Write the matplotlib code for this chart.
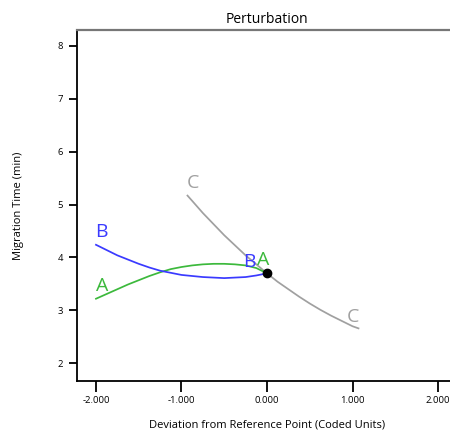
import matplotlib
matplotlib.use("Agg")
import matplotlib.pyplot as plt

plt.rcParams['font.family'] = ['Open Sans', 'DejaVu Sans']

# Factor A (green)
a_x = [-2.0, -1.875, -1.75, -1.625, -1.5, -1.375, -1.25, -1.125, -1.0,
       -0.875, -0.75, -0.625, -0.5, -0.375, -0.25, -0.125, 0.0]
a_y = [3.22, 3.31, 3.40, 3.49, 3.57, 3.65, 3.72, 3.78, 3.82,
       3.85, 3.87, 3.88, 3.88, 3.87, 3.85, 3.80, 3.70]
# Factor B (blue)
b_x = [-2.0, -1.875, -1.75, -1.625, -1.5, -1.375, -1.25, -1.125, -1.0,
       -0.875, -0.75, -0.625, -0.5, -0.375, -0.25, -0.125, 0.0]
b_y = [4.24, 4.14, 4.04, 3.96, 3.88, 3.81, 3.75, 3.71, 3.67,
       3.65, 3.63, 3.62, 3.61, 3.62, 3.63, 3.66, 3.70]
# Factor C (gray)
c_x = [-0.93, -0.875, -0.75, -0.625, -0.5, -0.375, -0.25, -0.125, 0.0,
       0.125, 0.25, 0.375, 0.5, 0.625, 0.75, 0.875, 1.0, 1.07]
c_y = [5.17, 5.07, 4.84, 4.63, 4.42, 4.23, 4.04, 3.87, 3.70,
       3.54, 3.40, 3.26, 3.13, 3.01, 2.90, 2.80, 2.70, 2.66]
# Reference point
ref_x = [0.0]
ref_y = [3.70]

x_ticks = [-2, -1, 0, 1, 2]
x_ticklabels = ["-2.000", "-1.000", "0.000", "1.000", "2.000"]
y_ticks = [2, 3, 4, 5, 6, 7, 8]

green = "#3cb93c"
blue = "#3a3aff"
gray = "#a0a0a0"

fig = plt.figure(figsize=(4.5, 4.33), dpi=100)
ax = fig.add_axes([77/450, 52/433, 380/450, 351/433])

ax.plot(c_x, c_y, color=gray, lw=1.25, zorder=2)
ax.plot(a_x, a_y, color=green, lw=1.25, zorder=3)
ax.plot(b_x, b_y, color=blue, lw=1.25, zorder=3)
ax.plot(ref_x, ref_y, 'o', color='black', ms=6, zorder=5)

fs = 14
ax.text(c_x[0] + 0.06, c_y[0] + 0.23, "C", color=gray, fontsize=fs, ha='center', va='center')
ax.text(c_x[-1] - 0.07, c_y[-1] + 0.22, "C", color=gray, fontsize=fs, ha='center', va='center')
ax.text(b_x[0] + 0.06, b_y[0] + 0.25, "B", color=blue, fontsize=fs, ha='center', va='center')
ax.text(a_x[0] + 0.07, a_y[0] + 0.25, "A", color=green, fontsize=fs, ha='center', va='center')
ax.text(b_x[-1] - 0.21, b_y[-1] + 0.22, "B", color=blue, fontsize=fs, ha='center', va='center', zorder=4)
ax.text(a_x[-1] - 0.05, a_y[-1] + 0.25, "A", color=green, fontsize=fs, ha='center', va='center', zorder=4)

ax.set_xlim(-2.222, 2.222)
ax.set_ylim(1.665, 8.30)
ax.set_xticks(x_ticks)
ax.set_xticklabels(x_ticklabels)
ax.set_yticks(y_ticks)
ax.tick_params(axis='x', length=8, width=1.3, labelsize=6.8, pad=3, direction='out')
ax.tick_params(axis='y', length=6, width=1.3, labelsize=6.8, pad=4, direction='out')

for s in ['left', 'bottom']:
    ax.spines[s].set_color('black')
    ax.spines[s].set_linewidth(1.3)
ax.spines['top'].set_color('#777777')
ax.spines['top'].set_linewidth(1.6)
ax.spines['right'].set_visible(False)

ax.set_title("Perturbation", fontsize=10, pad=5)
ax.set_xlabel("Deviation from Reference Point (Coded Units)", fontsize=8, labelpad=10)
ax.set_ylabel("Migration Time (min)", fontsize=8, labelpad=24)

fig.savefig("out.png", dpi=100)
